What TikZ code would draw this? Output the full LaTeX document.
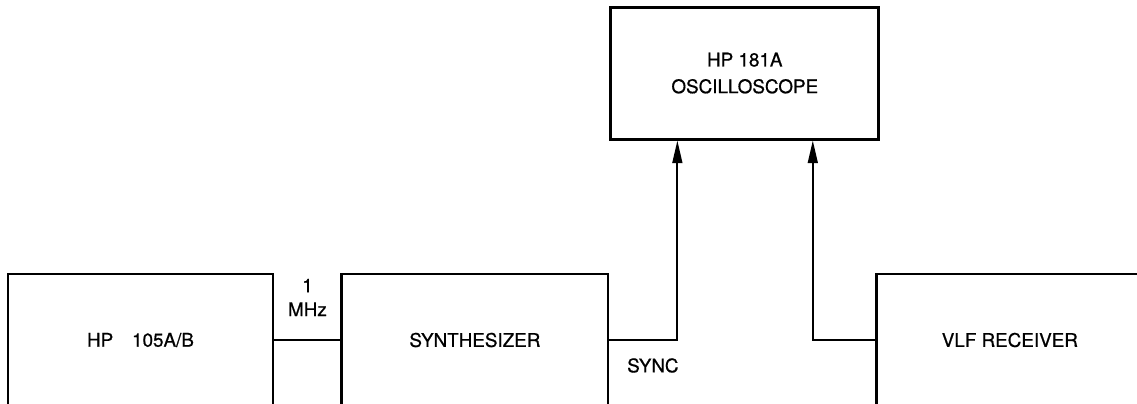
\documentclass[tikz,border=0pt]{standalone}
\usepackage{fontspec}
\setmainfont{TeX Gyre Heros}
\newfontfamily\platefont[FakeBold=0.7]{TeX Gyre Heros}
\usepackage{tikz}
\usetikzlibrary{positioning, arrows.meta}

\begin{document}
\begin{tikzpicture}[
    x=0.025cm, y=-0.025cm,
    node distance=1.65cm and 1.65cm,
    unit/.style={rectangle, draw, line width=2pt, minimum width=6.65cm, minimum height=3.3cm, align=center, inner sep=0pt, font=\platefont\fontsize{13.4}{19}\selectfont},
    arrow/.style={-{Triangle[length=16pt, width=7pt]}, line width=1.3pt},
    wire/.style={line width=1.3pt},
    tag/.style={font=\platefont\fontsize{13.4}{17}\selectfont, align=center}
]

    % page frame, boxes run off the bottom edge
    \clip (0,0) rectangle (1137,403);
    \fill[white] (0,0) rectangle (1137,403);

    % lower row of units
    \node [unit, minimum width=6.625cm] (hp) at (140.5,340) {HP\quad 105A/B};
    \node [unit, right=of hp] (synth) {SYNTHESIZER};
    \node [unit, right=6.65cm of synth] (vlf) {VLF RECEIVER};

    % scope sits on top, its left side over the synthesizer's right side
    \node [unit, minimum width=6.7cm, above=3.3cm of synth.north east, anchor=south west] (scope) {HP 181A\\OSCILLOSCOPE};

    % signals
    \draw [wire] (hp.east) -- node[tag, above=13pt] {1\\MHz} (synth.west);
    \draw [arrow] (synth.east) -| node[tag, below=9pt, pos=0.32] {SYNC} ([xshift=1.7cm]synth.east |- scope.south);
    \draw [arrow] (vlf.west) -| ([xshift=1.7cm]scope.south);

\end{tikzpicture}
\end{document}
